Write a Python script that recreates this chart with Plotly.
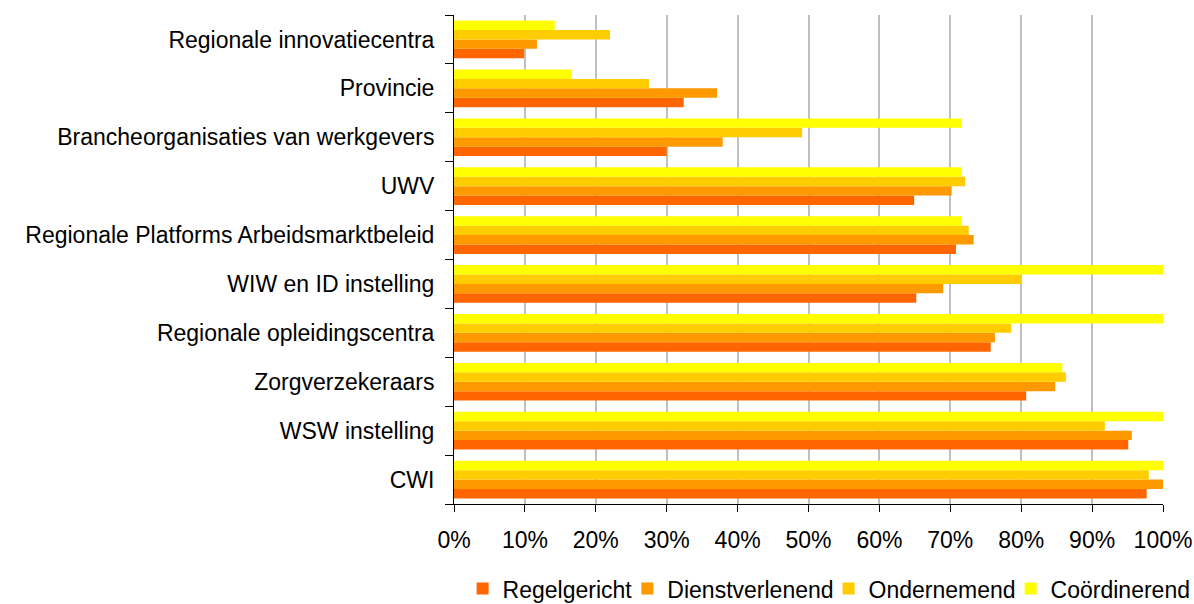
import plotly.graph_objects as go

categories = [
    "CWI",
    "WSW instelling",
    "Zorgverzekeraars",
    "Regionale opleidingscentra",
    "WIW en ID instelling",
    "Regionale Platforms Arbeidsmarktbeleid",
    "UWV",
    "Brancheorganisaties van werkgevers",
    "Provincie",
    "Regionale innovatiecentra",
]

regelgericht = [97.7, 95.1, 80.7, 75.7, 65.2, 70.8, 64.9, 30.0, 32.4, 9.9]
dienstverlenend = [100.0, 95.6, 84.8, 76.3, 69.0, 73.3, 70.2, 37.9, 37.1, 11.7]
ondernemend = [98.0, 91.8, 86.3, 78.6, 80.1, 72.6, 72.1, 49.1, 27.5, 22.0]
coordinerend = [100.0, 100.0, 85.8, 100.0, 100.0, 71.6, 71.6, 71.6, 16.6, 14.2]

series_names = ["Regelgericht", "Dienstverlenend", "Ondernemend", "Coördinerend"]
series_values = [regelgericht, dienstverlenend, ondernemend, coordinerend]
series_colors = ["#FF6600", "#FF9900", "#FFCC00", "#FFFF00"]

x_ticks = list(range(0, 101, 10))
x_tick_labels = [f"{v}%" for v in x_ticks]

font_family = "Liberation Sans, Arial, sans-serif"

fig = go.Figure()
for name, vals, col in zip(series_names, series_values, series_colors):
    fig.add_trace(go.Bar(
        x=vals, y=categories, orientation="h", name=name,
        marker=dict(color=col, line=dict(width=0)),
    ))

fig.update_layout(
    width=1194, height=604,
    margin=dict(l=454, r=31, t=15, b=100, autoexpand=False),
    paper_bgcolor="white", plot_bgcolor="white",
    barmode="group", bargap=0.23, bargroupgap=0,
    font=dict(family=font_family, size=23, color="black"),
    showlegend=True,
    legend=dict(
        orientation="h", x=1.046, xanchor="right", y=-0.173, yanchor="middle",
        font=dict(size=23, color="black"), traceorder="normal",
        itemwidth=30, tracegroupgap=0, borderwidth=0, indentation=-10,
    ),
    xaxis=dict(
        range=[0, 100], tickmode="array", tickvals=x_ticks, ticktext=x_tick_labels,
        showgrid=True, gridcolor="#C0C0C0", gridwidth=2,
        showline=True, linecolor="black", linewidth=1,
        ticks="outside", ticklen=7, tickcolor="black", tickwidth=1,
        zeroline=False, ticklabelstandoff=8, automargin=False,
        tickfont=dict(size=23, color="black"),
    ),
    yaxis=dict(
        type="category", categoryorder="array", categoryarray=categories,
        showgrid=False, showline=True, linecolor="black", linewidth=1,
        ticks="outside", ticklen=8, tickcolor="black", tickwidth=1,
        tickson="boundaries", ticklabelstandoff=14, automargin=False,
        tickfont=dict(size=23, color="black"),
    ),
)

fig.write_html(
    "out.html",
    config={"displayModeBar": False},
    post_script="document.body.style.margin='0';document.documentElement.style.overflow='hidden';",
)
